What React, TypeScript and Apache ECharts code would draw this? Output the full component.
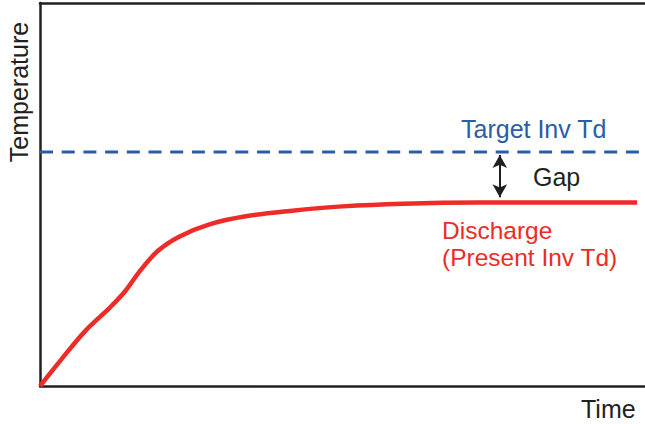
import React, { useEffect, useRef } from "react";
import * as echarts from "echarts";

// Time (arbitrary units 0-100) and temperature (arbitrary units 0-100)
const dischargeTime = [0, 3.5, 7.5, 11.5, 14.0, 16.5, 19.5, 23.0, 28.0, 34.0, 41.3, 50.0, 60.0, 72.7, 85.0, 98.7];
const dischargeTemp = [0, 6.9, 14.4, 20.4, 24.6, 30.0, 35.3, 39.0, 42.2, 44.3, 45.7, 46.9, 47.6, 47.9, 47.9, 47.9];
const targetTime = [0, 100];
const targetTemp = [61.1, 61.1];
const gapTime = 76.0;
const gapFrom = 60.3;
const gapTo = 49.3;

const RED = "#ee2b26";
const BLUE = "#2b5ca8";
const INK = "#231f20";
const FONT = '25px "Liberation Sans", Arial, sans-serif';
const FONT_SMALL = '24.5px "Liberation Sans", Arial, sans-serif';

export default function App() {
  const ref = useRef<HTMLDivElement>(null);
  useEffect(() => {
    if (!ref.current) return;
    const chart = echarts.init(ref.current, null, { renderer: "svg" });
    const axisLine = { show: true, lineStyle: { color: INK, width: 2.5 } };
    chart.setOption({
      animation: false,
      grid: { left: 40, right: 0, top: 3, bottom: 38 },
      xAxis: [
        { type: "value", min: 0, max: 100, position: "bottom", axisLine, axisTick: { show: false }, axisLabel: { show: false }, splitLine: { show: false } },
        { type: "value", min: 0, max: 100, position: "top", axisLine, axisTick: { show: false }, axisLabel: { show: false }, splitLine: { show: false } },
      ],
      yAxis: { type: "value", min: 0, max: 100, axisLine, axisTick: { show: false }, axisLabel: { show: false }, splitLine: { show: false } },
      series: [
        {
          type: "line",
          data: targetTime.map((t, i) => [t, targetTemp[i]]),
          showSymbol: false,
          lineStyle: { color: BLUE, width: 3, type: [13, 8.7] },
          markLine: {
            silent: true,
            symbol: ["arrow", "arrow"],
            symbolSize: [11, 13],
            label: { show: false },
            lineStyle: { color: INK, width: 2, type: "solid" },
            data: [[{ coord: [gapTime, gapFrom] }, { coord: [gapTime, gapTo] }]],
          },
        },
        {
          type: "line",
          data: dischargeTime.map((t, i) => [t, dischargeTemp[i]]),
          showSymbol: false,
          smooth: 0.35,
          lineStyle: { color: RED, width: 4.5 },
        },
      ],
      graphic: [
        { type: "text", x: 461, y: 128.5, style: { text: "Target Inv Td", font: FONT, fill: BLUE, verticalAlign: "middle" } },
        { type: "text", x: 533, y: 176.5, style: { text: "Gap", font: FONT, fill: INK, verticalAlign: "middle" } },
        { type: "text", x: 442, y: 244, style: { text: "Discharge\n(Present Inv Td)", font: FONT_SMALL, lineHeight: 27.5, fill: RED, verticalAlign: "middle" } },
        { type: "text", x: 581, y: 409, style: { text: "Time", font: FONT, fill: INK, verticalAlign: "middle" } },
        { type: "text", x: 18.5, y: 92, rotation: Math.PI / 2, style: { text: "Temperature", font: FONT, fill: INK, align: "center", verticalAlign: "middle" } },
      ],
    });
    return () => chart.dispose();
  }, []);
  return <div ref={ref} style={{ width: 645, height: 424, position: "absolute", left: 0, top: 0 }} />;
}
